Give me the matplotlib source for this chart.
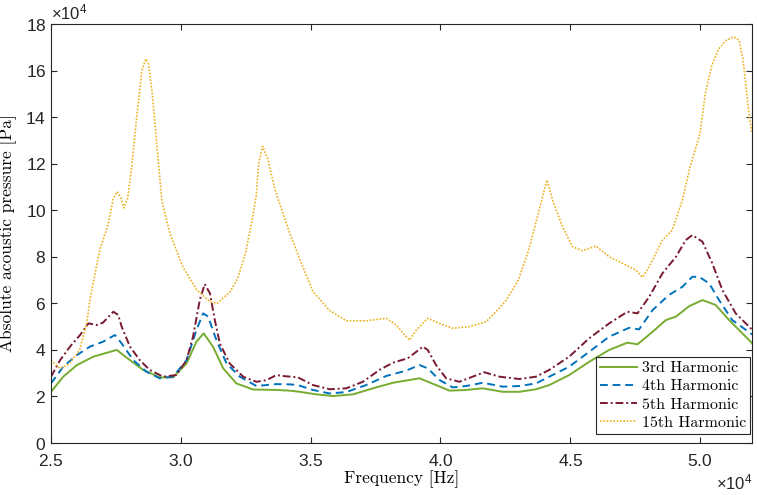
import matplotlib
matplotlib.use("Agg")
import matplotlib.pyplot as plt
import numpy as np

# values in units of 1e4 (Hz on x, Pa on y)
SCALE = 1e4

x_h3 = [2.50, 2.547, 2.60, 2.663, 2.753, 2.804, 2.855, 2.919, 2.97, 3.022, 3.06, 3.088,
        3.124, 3.163, 3.214, 3.278, 3.368, 3.419, 3.458, 3.522, 3.586, 3.663, 3.74, 3.817,
        3.919, 3.983, 4.035, 4.099, 4.163, 4.24, 4.304, 4.368, 4.419, 4.496, 4.573, 4.65,
        4.72, 4.759, 4.817, 4.868, 4.907, 4.958, 5.009, 5.06, 5.112, 5.195, 5.20]
y_h3 = [2.2, 2.85, 3.35, 3.71, 4.0, 3.56, 3.14, 2.82, 2.82, 3.42, 4.35, 4.71,
        4.14, 3.21, 2.56, 2.3, 2.28, 2.25, 2.2, 2.09, 2.02, 2.09, 2.35, 2.59,
        2.78, 2.49, 2.25, 2.28, 2.35, 2.2, 2.2, 2.31, 2.49, 2.92, 3.49, 4.0,
        4.31, 4.24, 4.78, 5.28, 5.43, 5.88, 6.14, 5.93, 5.28, 4.35, 4.28]

x_h4 = [2.50, 2.547, 2.60, 2.65, 2.70, 2.746, 2.772, 2.817, 2.868, 2.919, 2.97, 3.022,
        3.06, 3.086, 3.105, 3.137, 3.176, 3.227, 3.291, 3.368, 3.419, 3.45, 3.509, 3.573,
        3.637, 3.714, 3.791, 3.868, 3.919, 3.951, 3.996, 4.047, 4.099, 4.163, 4.24, 4.304,
        4.368, 4.419, 4.496, 4.573, 4.65, 4.727, 4.765, 4.817, 4.88, 4.932, 4.97, 4.996,
        5.035, 5.073, 5.124, 5.195, 5.20]
y_h4 = [2.56, 3.28, 3.78, 4.14, 4.35, 4.64, 4.28, 3.56, 3.06, 2.78, 2.85, 3.56,
        4.85, 5.57, 5.43, 4.42, 3.42, 2.85, 2.45, 2.53, 2.52, 2.49, 2.28, 2.13,
        2.19, 2.49, 2.88, 3.11, 3.35, 3.21, 2.71, 2.39, 2.45, 2.59, 2.42, 2.45,
        2.56, 2.85, 3.28, 3.92, 4.57, 4.95, 4.88, 5.71, 6.36, 6.71, 7.14, 7.14,
        6.86, 6.14, 5.28, 4.71, 4.66]

x_h5 = [2.50, 2.535, 2.573, 2.612, 2.644, 2.676, 2.70, 2.74, 2.759, 2.772, 2.804, 2.842,
        2.88, 2.932, 2.983, 3.022, 3.047, 3.073, 3.092, 3.112, 3.131, 3.15, 3.188, 3.24,
        3.291, 3.33, 3.368, 3.393, 3.451, 3.509, 3.573, 3.637, 3.701, 3.765, 3.817, 3.874,
        3.907, 3.932, 3.951, 3.983, 4.022, 4.073, 4.124, 4.169, 4.227, 4.304, 4.368, 4.419,
        4.496, 4.573, 4.65, 4.72, 4.759, 4.804, 4.855, 4.907, 4.945, 4.97, 5.009, 5.047,
        5.086, 5.137, 5.195, 5.20]
y_h5 = [2.85, 3.56, 4.14, 4.64, 5.14, 5.07, 5.17, 5.64, 5.5, 5.0, 4.14, 3.56,
        3.14, 2.85, 2.92, 3.56, 4.57, 6.14, 6.83, 6.43, 5.28, 4.28, 3.42, 2.85,
        2.63, 2.7, 2.92, 2.88, 2.82, 2.49, 2.31, 2.35, 2.63, 3.14, 3.45, 3.64,
        3.92, 4.14, 4.0, 3.35, 2.78, 2.63, 2.85, 3.04, 2.85, 2.75, 2.85, 3.14,
        3.71, 4.5, 5.14, 5.64, 5.57, 6.28, 7.29, 8.0, 8.72, 8.93, 8.65, 7.72,
        6.57, 5.57, 4.93, 4.88]

x_h15 = [2.50, 2.535, 2.57, 2.61, 2.637, 2.65, 2.67, 2.69, 2.70, 2.72, 2.74, 2.755,
         2.77, 2.78, 2.795, 2.81, 2.83, 2.85, 2.865, 2.875, 2.89, 2.91, 2.927, 2.958,
         3.008, 3.06, 3.112, 3.14, 3.19, 3.22, 3.25, 3.275, 3.29, 3.30, 3.315, 3.335,
         3.36, 3.38, 3.42, 3.458, 3.509, 3.573, 3.637, 3.714, 3.791, 3.83, 3.862, 3.881,
         3.907, 3.951, 3.996, 4.047, 4.112, 4.176, 4.227, 4.253, 4.30, 4.34, 4.38, 4.41,
         4.432, 4.47, 4.509, 4.547, 4.599, 4.65, 4.714, 4.753, 4.778, 4.804, 4.855, 4.893,
         4.932, 4.96, 5.00, 5.02, 5.045, 5.07, 5.10, 5.13, 5.15, 5.165, 5.18, 5.19,
         5.20]
y_h15 = [3.56, 3.2, 3.4, 4.0, 5.14, 6.14, 7.3, 8.4, 8.7, 9.4, 10.5, 10.8,
         10.5, 10.1, 10.5, 11.8, 14.0, 16.0, 16.5, 16.3, 15.0, 12.5, 10.4, 9.0,
         7.56, 6.6, 6.07, 6.0, 6.5, 7.1, 8.2, 9.6, 10.6, 12.0, 12.75, 12.2,
         11.0, 10.3, 9.0, 7.9, 6.5, 5.7, 5.25, 5.25, 5.36, 5.07, 4.64, 4.42,
         4.85, 5.36, 5.14, 4.93, 5.0, 5.21, 5.79, 6.14, 7.0, 8.3, 10.0, 11.3,
         10.44, 9.29, 8.43, 8.26, 8.46, 8.0, 7.65, 7.43, 7.12, 7.57, 8.72, 9.15,
         10.44, 11.8, 13.3, 15.0, 16.2, 16.9, 17.3, 17.45, 17.3, 16.5, 15.0, 14.0,
         13.3]

labels = ["3rd Harmonic", "4th Harmonic", "5th Harmonic", "15th Harmonic"]

plt.rcParams["font.family"] = ["Liberation Sans", "DejaVu Sans"]
plt.rcParams["mathtext.fontset"] = "custom"
plt.rcParams["mathtext.rm"] = "Liberation Sans"
plt.rcParams["mathtext.it"] = "Liberation Sans"

fig = plt.figure(figsize=(7.57, 4.95), dpi=100)
ax = fig.add_axes([0.0674, 0.105, 0.926, 0.8465])

ax.plot(np.array(x_h3) * SCALE, np.array(y_h3) * SCALE, color="#77AC30", lw=1.4, ls="-", label=labels[0])
ax.plot(np.array(x_h4) * SCALE, np.array(y_h4) * SCALE, color="#0072BD", lw=1.4, ls=(0, (4, 2.5)), label=labels[1])
ax.plot(np.array(x_h5) * SCALE, np.array(y_h5) * SCALE, color="#7A1A30", lw=1.4, ls=(0, (4, 1.5, 1, 1.5)), label=labels[2])
ax.plot(np.array(x_h15) * SCALE, np.array(y_h15) * SCALE, color="#EDB120", lw=1.2, ls=(0, (1, 1)), label=labels[3])

ax.set_xlim(2.5e4, 5.2e4)
ax.set_ylim(0, 18e4)
ax.set_xticks(np.arange(2.5e4, 5.01e4, 0.5e4))
ax.set_yticks(np.arange(0, 18.1e4, 2e4))
ax.ticklabel_format(style="sci", axis="both", scilimits=(4, 4), useMathText=True)
ax.tick_params(direction="in", top=True, right=True, labelsize=12.5, colors="#262626", length=4)
ax.tick_params(axis="x", pad=7)
ax.xaxis.get_offset_text().set_fontsize(12)
ax.yaxis.get_offset_text().set_fontsize(12)
for s in ax.spines.values():
    s.set_color("#262626")
    s.set_linewidth(0.8)

ax.set_xlabel("Frequency [Hz]", fontfamily="cmr10", fontsize=12.5, labelpad=1)
ax.set_ylabel("Absolute acoustic pressure [Pa]", fontfamily="cmr10", fontsize=12.5, labelpad=6)

leg = ax.legend(loc="lower right", bbox_to_anchor=(0.997, 0.022), prop={"family": "cmr10", "size": 11.5},
                fancybox=False, edgecolor="#262626", framealpha=1, handlelength=2.3,
                handletextpad=0.3, borderpad=0.25, labelspacing=0.25, borderaxespad=0)
leg.get_frame().set_linewidth(0.8)

fig.savefig("out.png", dpi=100)
